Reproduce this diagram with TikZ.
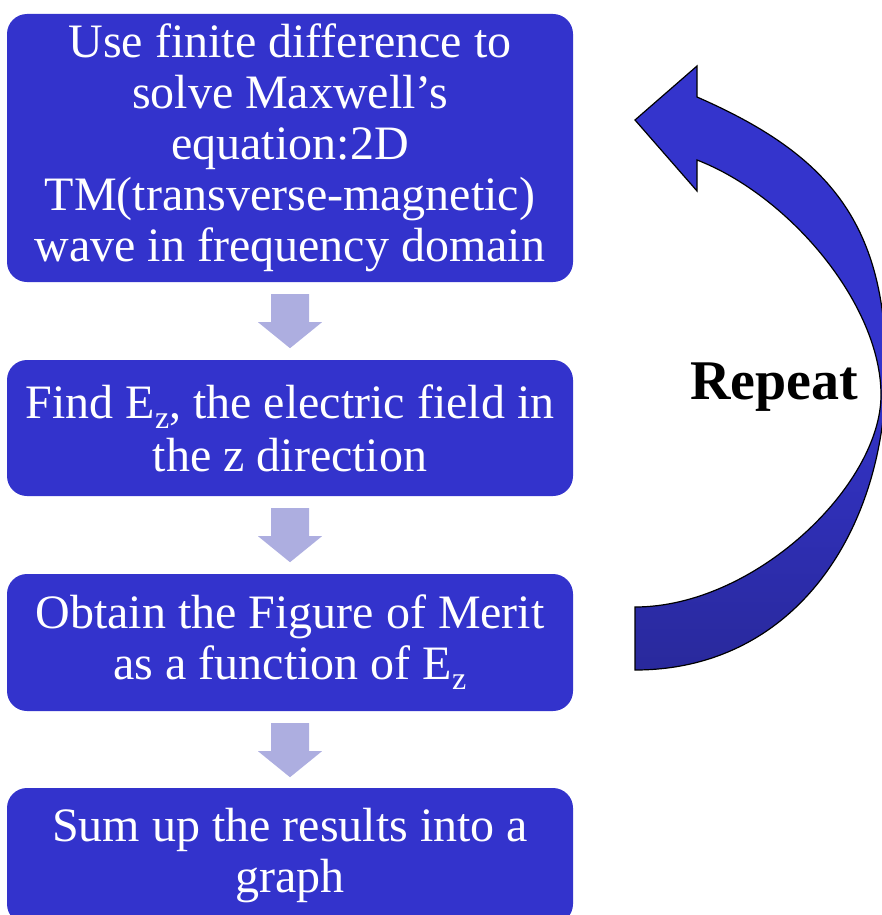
\documentclass[tikz,border=0pt]{standalone}
\usepackage{fontspec}
\setmainfont{Liberation Serif}
\definecolor{boxblue}{HTML}{3333CC}
\definecolor{lightarrow}{HTML}{ADAEE0}
\definecolor{arctop}{HTML}{3434CC}
\definecolor{arcbot}{HTML}{29299C}
\pgfdeclareverticalshading{repshade}{100bp}{color(0bp)=(arcbot); color(25bp)=(arcbot); color(50bp)=(arctop); color(100bp)=(arctop)}
\newcommand{\zsub}{\raisebox{-10pt}{\fontsize{32}{32}\selectfont z}}
\begin{document}
\begin{tikzpicture}[x=1pt,y=-1pt,
  stepbox/.style={draw=none, fill=boxblue, rounded corners=20pt, minimum width=566pt,
     inner sep=0pt, align=center, text=white, font=\fontsize{48}{51}\selectfont},
  downarrow/.pic={\fill[lightarrow] (-19,0) -- (19,0) -- (19,28) -- (32,28) -- (0,54)
     -- (-32,28) -- (-19,28) -- cycle;},
  repeatlabel/.style={font=\fontsize{56}{60}\selectfont\bfseries, text=black, inner sep=0pt}]
\useasboundingbox (0,0) rectangle (881,915);
% boxes
\node[stepbox, minimum height=268pt] (b1) at (290,148)
  {Use finite difference to\\solve Maxwell’s\\equation:2D\\TM(transverse-magnetic)\\wave in frequency domain};
\node[stepbox, minimum height=136pt, font=\fontsize{48}{53}\selectfont] (b2) at (290,428)
  {Find E\zsub, the electric field in\\the z direction};
\node[stepbox, minimum height=137pt] (b3) at (290,642.5)
  {Obtain the Figure of Merit\\as a function of E\zsub};
\node[stepbox, minimum height=136pt] (b4) at (290,856)
  {Sum up the results into a\\graph};
% block arrows between boxes
\path (b1.south) ++(0,12) pic {downarrow};
\path (b2.south) ++(0,12) pic {downarrow};
\path (b3.south) ++(0,12) pic {downarrow};
% curved repeat arrow
\draw[line width=1.2pt, line join=miter, shading=repshade]
  (635,120) -- (697,66) -- (697,97)
  .. controls (825,153) and (886,220) .. (886,370)
  .. controls (886,530) and (795,670) .. (635,670)
  -- (635,607)
  .. controls (755,607) and (881,485) .. (881,395)
  .. controls (881,305) and (790,196) .. (697,160)
  -- (697,191) -- cycle;
\node[repeatlabel, anchor=base] (rep) at (774,399) {Repeat};
\end{tikzpicture}
\end{document}
